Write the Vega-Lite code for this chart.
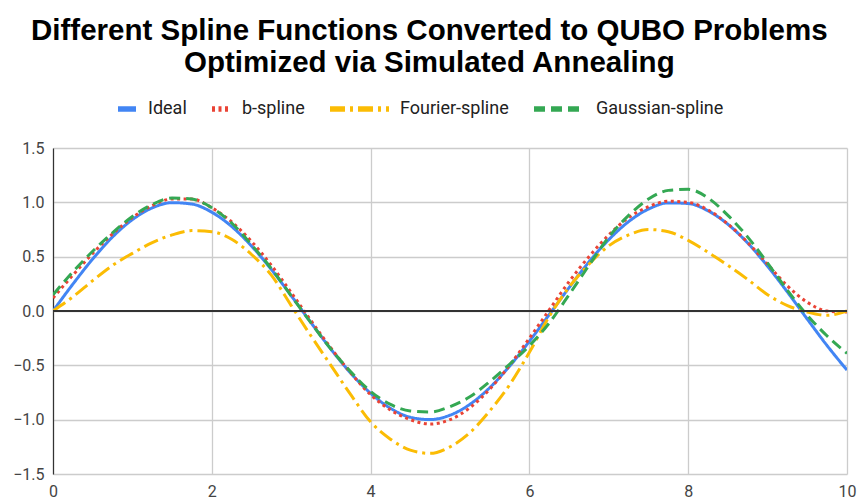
{
  "$schema": "https://vega.github.io/schema/vega-lite/v6.json",
  "width": 794,
  "height": 326,
  "autosize": {"type": "none"},
  "padding": {"left": 53, "top": 148, "right": 12, "bottom": 30},
  "background": "white",
  "title": {
    "text": ["Different Spline Functions Converted to QUBO Problems", "Optimized via Simulated Annealing"],
    "font": "Liberation Sans",
    "fontSize": 29.5,
    "fontWeight": "bold",
    "color": "#000000",
    "anchor": "middle",
    "frame": "bounds",
    "lineHeight": 32,
    "offset": 19,
    "dx": -5
  },
  "data": {
    "values": [
      {"x": 0, "Ideal": 0, "b-spline": 0.12, "Fourier-spline": 0, "Gaussian-spline": 0.15},
      {"x": 0.25, "Ideal": 0.247, "b-spline": 0.33, "Fourier-spline": 0.13, "Gaussian-spline": 0.36},
      {"x": 0.5, "Ideal": 0.479, "b-spline": 0.53, "Fourier-spline": 0.28, "Gaussian-spline": 0.55},
      {"x": 0.75, "Ideal": 0.682, "b-spline": 0.71, "Fourier-spline": 0.42, "Gaussian-spline": 0.72},
      {"x": 1, "Ideal": 0.841, "b-spline": 0.86, "Fourier-spline": 0.53, "Gaussian-spline": 0.87},
      {"x": 1.25, "Ideal": 0.949, "b-spline": 0.97, "Fourier-spline": 0.63, "Gaussian-spline": 0.98},
      {"x": 1.5, "Ideal": 0.997, "b-spline": 1.03, "Fourier-spline": 0.7, "Gaussian-spline": 1.04},
      {"x": 1.75, "Ideal": 0.984, "b-spline": 1.03, "Fourier-spline": 0.74, "Gaussian-spline": 1.03},
      {"x": 2, "Ideal": 0.909, "b-spline": 0.95, "Fourier-spline": 0.73, "Gaussian-spline": 0.95},
      {"x": 2.25, "Ideal": 0.778, "b-spline": 0.82, "Fourier-spline": 0.66, "Gaussian-spline": 0.81},
      {"x": 2.5, "Ideal": 0.598, "b-spline": 0.64, "Fourier-spline": 0.52, "Gaussian-spline": 0.61},
      {"x": 2.75, "Ideal": 0.382, "b-spline": 0.42, "Fourier-spline": 0.33, "Gaussian-spline": 0.39},
      {"x": 3, "Ideal": 0.141, "b-spline": 0.17, "Fourier-spline": 0.05, "Gaussian-spline": 0.14},
      {"x": 3.25, "Ideal": -0.108, "b-spline": -0.09, "Fourier-spline": -0.23, "Gaussian-spline": -0.11},
      {"x": 3.5, "Ideal": -0.351, "b-spline": -0.34, "Fourier-spline": -0.5, "Gaussian-spline": -0.35},
      {"x": 3.75, "Ideal": -0.572, "b-spline": -0.57, "Fourier-spline": -0.77, "Gaussian-spline": -0.56},
      {"x": 4, "Ideal": -0.757, "b-spline": -0.77, "Fourier-spline": -1.02, "Gaussian-spline": -0.74},
      {"x": 4.25, "Ideal": -0.895, "b-spline": -0.91, "Fourier-spline": -1.18, "Gaussian-spline": -0.86},
      {"x": 4.5, "Ideal": -0.978, "b-spline": -1.0, "Fourier-spline": -1.28, "Gaussian-spline": -0.92},
      {"x": 4.75, "Ideal": -0.999, "b-spline": -1.04, "Fourier-spline": -1.31, "Gaussian-spline": -0.93},
      {"x": 5, "Ideal": -0.959, "b-spline": -1.0, "Fourier-spline": -1.25, "Gaussian-spline": -0.88},
      {"x": 5.25, "Ideal": -0.859, "b-spline": -0.89, "Fourier-spline": -1.12, "Gaussian-spline": -0.79},
      {"x": 5.5, "Ideal": -0.706, "b-spline": -0.72, "Fourier-spline": -0.92, "Gaussian-spline": -0.65},
      {"x": 5.75, "Ideal": -0.508, "b-spline": -0.5, "Fourier-spline": -0.68, "Gaussian-spline": -0.49},
      {"x": 6, "Ideal": -0.279, "b-spline": -0.25, "Fourier-spline": -0.38, "Gaussian-spline": -0.32},
      {"x": 6.25, "Ideal": -0.033, "b-spline": 0.01, "Fourier-spline": -0.05, "Gaussian-spline": -0.11},
      {"x": 6.5, "Ideal": 0.215, "b-spline": 0.27, "Fourier-spline": 0.22, "Gaussian-spline": 0.15},
      {"x": 6.75, "Ideal": 0.451, "b-spline": 0.5, "Fourier-spline": 0.43, "Gaussian-spline": 0.42},
      {"x": 7, "Ideal": 0.657, "b-spline": 0.7, "Fourier-spline": 0.6, "Gaussian-spline": 0.68},
      {"x": 7.25, "Ideal": 0.823, "b-spline": 0.86, "Fourier-spline": 0.7, "Gaussian-spline": 0.88},
      {"x": 7.5, "Ideal": 0.938, "b-spline": 0.96, "Fourier-spline": 0.75, "Gaussian-spline": 1.03},
      {"x": 7.75, "Ideal": 0.995, "b-spline": 1.01, "Fourier-spline": 0.73, "Gaussian-spline": 1.11},
      {"x": 8, "Ideal": 0.989, "b-spline": 1.0, "Fourier-spline": 0.65, "Gaussian-spline": 1.12},
      {"x": 8.25, "Ideal": 0.922, "b-spline": 0.93, "Fourier-spline": 0.54, "Gaussian-spline": 1.04},
      {"x": 8.5, "Ideal": 0.798, "b-spline": 0.8, "Fourier-spline": 0.42, "Gaussian-spline": 0.88},
      {"x": 8.75, "Ideal": 0.625, "b-spline": 0.63, "Fourier-spline": 0.29, "Gaussian-spline": 0.68},
      {"x": 9, "Ideal": 0.412, "b-spline": 0.43, "Fourier-spline": 0.15, "Gaussian-spline": 0.44},
      {"x": 9.25, "Ideal": 0.174, "b-spline": 0.23, "Fourier-spline": 0.05, "Gaussian-spline": 0.19},
      {"x": 9.5, "Ideal": -0.075, "b-spline": 0.08, "Fourier-spline": -0.01, "Gaussian-spline": -0.04},
      {"x": 9.75, "Ideal": -0.319, "b-spline": 0.0, "Fourier-spline": -0.04, "Gaussian-spline": -0.23},
      {"x": 10, "Ideal": -0.544, "b-spline": -0.01, "Fourier-spline": 0.0, "Gaussian-spline": -0.39}
    ]
  },
  "layer": [
    {
      "transform": [{"fold": ["Ideal", "b-spline", "Fourier-spline", "Gaussian-spline"], "as": ["series", "value"]}],
      "mark": {"type": "line", "interpolate": "monotone", "strokeWidth": 3, "clip": true},
      "encoding": {
        "x": {
          "field": "x", "type": "quantitative",
          "scale": {"domain": [0, 10], "nice": false, "zero": false},
          "axis": {"values": [0, 2, 4, 6, 8, 10], "format": "d", "title": null, "domain": false, "ticks": false,
                   "grid": true, "labelFont": "Roboto", "labelFontSize": 16, "labelColor": "#444444", "labelPadding": 9,
                   "gridColor": "#cccccc", "gridWidth": 1.3, "labelFlush": false}
        },
        "y": {
          "field": "value", "type": "quantitative",
          "scale": {"domain": [-1.5, 1.5], "nice": false},
          "axis": {"values": [-1.5, -1, -0.5, 0, 0.5, 1, 1.5], "format": ".1f", "title": null, "domain": true,
                   "grid": true, "domainColor": "#333333", "domainWidth": 1.2, "ticks": false,
                   "labelFont": "Roboto", "labelFontSize": 16, "labelColor": "#444444", "labelPadding": 9,
                   "gridColor": "#cccccc", "gridWidth": 1.3}
        },
        "color": {
          "field": "series", "type": "nominal",
          "scale": {"domain": ["Ideal", "b-spline", "Fourier-spline", "Gaussian-spline"],
                    "range": ["#4285F4", "#EA4335", "#FBBC04", "#34A853"]},
          "legend": {
            "orient": "none", "legendX": 65, "legendY": -51, "direction": "horizontal", "title": null,
            "symbolType": "stroke", "symbolStrokeWidth": 5.5, "symbolSize": 324,
            "labelFont": "Roboto", "labelFontSize": 18, "labelColor": "#222222",
            "columnPadding": 14, "labelOffset": 12,
            "symbolOpacity": 1,
            "encode": {
              "symbols": {
                "update": {
                  "x": {"signal": "datum.value === 'Fourier-spline' ? 29.5 : datum.value === 'Gaussian-spline' ? 25.5 : 9"},
                  "size": {"signal": "datum.value === 'Fourier-spline' ? 3481 : datum.value === 'Gaussian-spline' ? 2601 : 324"},
                  "strokeDash": {"signal": "datum.value === 'b-spline' ? [6, 6] : datum.value === 'Fourier-spline' ? [39, 14, 6, 100] : datum.value === 'Gaussian-spline' ? [19, 13] : [1, 0]"}
                }
              },
              "labels": {
                "update": {
                  "x": {"signal": "datum.value === 'Fourier-spline' ? 70 : datum.value === 'Gaussian-spline' ? 62 : 30"}
                }
              }
            }
          }
        },
        "strokeDash": {
          "field": "series", "type": "nominal",
          "scale": {"domain": ["Ideal", "b-spline", "Fourier-spline", "Gaussian-spline"],
                    "range": [[1, 0], [3, 3.5], [15, 5, 3, 5], [11, 6]]},
          "legend": null
        }
      }
    },
    {
      "mark": {"type": "rule", "color": "#333333", "strokeWidth": 1.2},
      "encoding": {"y": {"datum": 0, "type": "quantitative"}}
    }
  ],
  "config": {"view": {"stroke": null}}
}
